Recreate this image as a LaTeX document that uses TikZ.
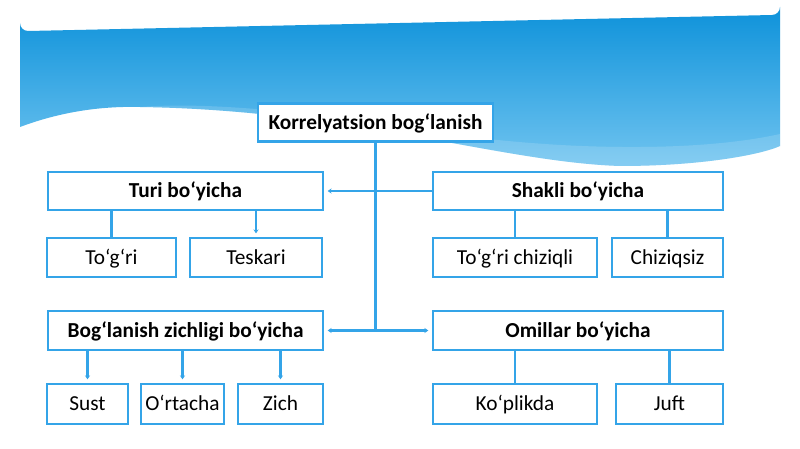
\documentclass[tikz,border=0pt]{standalone}
\usepackage{fontspec}
\setmainfont{Carlito}
\usetikzlibrary{arrows.meta}
\definecolor{lineBlue}{RGB}{52,164,232}
\definecolor{skyTop}{RGB}{14,146,218}
\definecolor{skyLow}{RGB}{112,196,240}
\begin{document}
\begin{tikzpicture}[x=0.75pt,y=-0.75pt]
\tikzstyle{catBox}=[rectangle,draw=lineBlue,line width=2pt,fill=white,inner sep=0pt,text height=12pt,text depth=1.7pt,font=\fontsize{16}{19}\selectfont]
\tikzstyle{headBox}=[catBox,font=\fontsize{16}{19}\selectfont\bfseries]
\tikzstyle{link}=[draw=lineBlue,line width=1.6pt]
\tikzstyle{tip}=[link,-{Stealth[length=3pt,width=4pt]},shorten >=2.5pt]
\useasboundingbox (0,0) rectangle (800,449);
%Background
\fill[white] (0,0) rectangle (800,449);
\shade[top color=skyTop,bottom color=skyLow]
  (20,127) -- (20,23) arc[start angle=180,end angle=90,radius=8] -- (772,15)
  arc[start angle=90,end angle=0,radius=8] -- (780,146)
  .. controls (760,155) and (700,166) .. (620,166)
  .. controls (500,162) and (350,110) .. (140,107)
  .. controls (100,106) and (60,112) .. (20,127) -- cycle;
\fill[white,opacity=0.15] (140,107) .. controls (350,110) and (500,162) .. (620,166)
  .. controls (700,166) and (760,155) .. (780,146) -- (780,134)
  .. controls (700,152) and (560,152) .. (420,130)
  .. controls (300,110) and (200,102) .. (140,107) -- cycle;

%Top node
\node[headBox,minimum width=176.25pt,minimum height=28.5pt] (korr) at (375.5,122.5) {Korrelyatsion bog‘lanish};

%Category nodes
\node[headBox,minimum width=206.25pt,minimum height=28.5pt] (turi)      at (185.5,191) {Turi bo‘yicha};
\node[headBox,minimum width=217.5pt,minimum height=28.5pt]  (shakli)    at (578,191)   {Shakli bo‘yicha};
\node[headBox,minimum width=206.25pt,minimum height=29.25pt] (boglanish) at (185.5,330.5) {Bog‘lanish zichligi bo‘yicha};
\node[headBox,minimum width=217.5pt,minimum height=29.25pt]  (omillar)   at (578,330.5)   {Omillar bo‘yicha};

%Leaf nodes
\node[catBox,minimum width=96.75pt,minimum height=29.25pt] (togri)     at (111.5,257.5) {To‘g‘ri};
\node[catBox,minimum width=99pt,minimum height=29.25pt]    (teskari)   at (256,257.5)   {Teskari};
\node[catBox,minimum width=123pt,minimum height=29.25pt]   (togriChiz) at (515,257.5)   {To‘g‘ri chiziqli};
\node[catBox,minimum width=83.25pt,minimum height=29.25pt] (chiziqsiz) at (667.5,257.5) {Chiziqsiz};

\node[catBox,minimum width=60.75pt,minimum height=30pt] (sust)     at (87.5,404)  {Sust};
\node[catBox,minimum width=62.25pt,minimum height=30pt] (ortacha)  at (182.5,404) {O‘rtacha};
\node[catBox,minimum width=63.75pt,minimum height=30pt] (zich)     at (280.5,404) {Zich};
\node[catBox,minimum width=123pt,minimum height=30pt]   (koplikda) at (515,404)   {Ko‘plikda};
\node[catBox,minimum width=80.25pt,minimum height=30pt] (juft)     at (669.5,404) {Juft};

% hub points on the trunk
\coordinate (hubTop) at (korr.south |- turi.east);
\coordinate (hubBot) at (korr.south |- boglanish.east);

% connections
\draw[link] (korr.south) -- (hubBot);
\draw[tip]  (hubTop) -- (turi.east);
\draw[link] (hubTop) -- (shakli.west);
\draw[tip]  (hubBot) -- (boglanish.east);
\draw[tip]  (hubBot) -- (omillar.west);

\draw[link] (turi.south -| togri.north) -- (togri.north);
\draw[tip]  (turi.south -| teskari.north) -- (teskari.north);
\draw[link] (shakli.south -| togriChiz.north) -- (togriChiz.north);
\draw[link] (shakli.south -| chiziqsiz.north) -- (chiziqsiz.north);

\draw[tip]  (boglanish.south -| sust.north) -- (sust.north);
\draw[tip]  (boglanish.south -| ortacha.north) -- (ortacha.north);
\draw[tip]  (boglanish.south -| zich.north) -- (zich.north);
\draw[link] (omillar.south -| koplikda.north) -- (koplikda.north);
\draw[link] (omillar.south -| juft.north) -- (juft.north);

\end{tikzpicture}
\end{document}
